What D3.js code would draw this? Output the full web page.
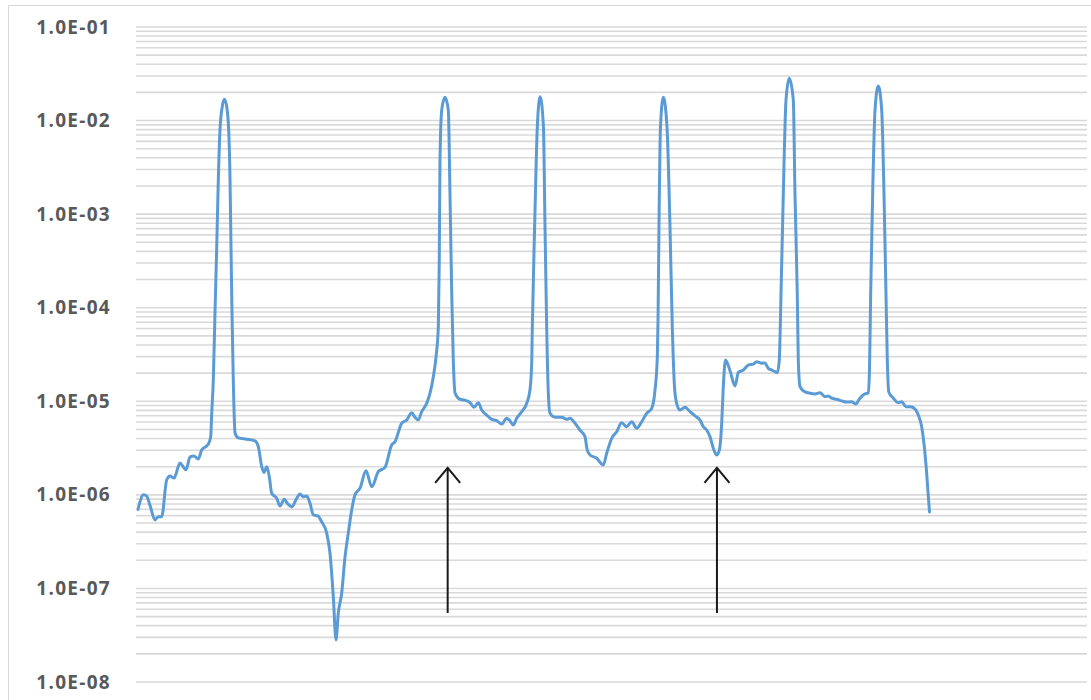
<!DOCTYPE html>
<html>
<head>
<meta charset="utf-8">
<script src="https://cdn.jsdelivr.net/npm/d3@7"></script>
<style>
  html, body { margin: 0; padding: 0; background: #ffffff; }
  svg { display: block; }
</style>
</head>
<body>
<svg id="chart" width="1091" height="700"></svg>
<script>
// ---- data ----
const decadeTicks = [1e-8, 1e-7, 1e-6, 1e-5, 1e-4, 1e-3, 1e-2, 1e-1];
const tickLabels = ["1.0E-08", "1.0E-07", "1.0E-06", "1.0E-05", "1.0E-04", "1.0E-03", "1.0E-02", "1.0E-01"];

const times = [
  0, 0.7, 1.1, 1.5, 2.15, 2.56, 2.99, 3.62, 4.04, 4.55, 5.3, 5.72, 6.06, 6.57, 7.07, 7.61, 8.04, 8.88, 9.18, 9.31,
  9.51, 9.72, 9.94, 10.14, 10.35, 10.64, 10.9, 11.2, 11.45, 11.62, 11.74, 11.87, 12.03, 12.25, 12.66, 13.72, 14.77, 15.19, 15.62, 15.91,
  16.25, 16.58, 16.88, 17.51, 17.93, 18.47, 18.85, 19.41, 20.04, 20.45, 20.87, 21.3, 21.72, 22.13, 22.69, 23.19, 23.83, 24.24, 24.66, 25.0,
  25.29, 25.72, 26.14, 26.55, 26.98, 27.4, 28.03, 28.79, 29.51, 30.34, 31.19, 32.03, 32.45, 33.3, 33.93, 34.56, 34.97, 35.39, 35.82, 36.45,
  36.87, 37.29, 37.63, 37.92, 38.04, 38.13, 38.35, 38.76, 39.18, 39.39, 39.61, 39.81, 40.03, 40.66, 41.29, 41.92, 42.42, 42.97, 43.4, 44.03,
  44.66, 45.29, 45.92, 46.55, 46.88, 47.39, 47.81, 48.45, 49.08, 49.49, 49.71, 49.78, 50.08, 50.42, 50.77, 51.19, 51.39, 51.6, 51.81, 52.02,
  52.65, 53.5, 54.13, 54.55, 55.18, 55.81, 56.44, 56.69, 57.07, 57.92, 58.75, 59.18, 59.81, 60.44, 61.07, 61.7, 62.34, 62.97, 63.6, 64.23,
  64.86, 65.28, 65.57, 65.66, 65.78, 65.97, 66.33, 66.79, 67.17, 67.46, 67.8, 68.22, 68.43, 69.07, 69.7, 70.33, 70.96, 71.38, 71.8, 72.22,
  72.64, 73.07, 73.4, 73.7, 73.9, 74.18, 74.75, 75.38, 75.8, 76.43, 77.06, 77.69, 78.12, 78.75, 79.17, 79.58, 80.01, 80.43, 80.72, 80.97,
  81.19, 81.48, 81.82, 82.23, 82.74, 82.95, 83.24, 83.37, 83.59, 84.22, 84.85, 85.48, 86.11, 86.74, 87.16, 87.59, 88.22, 88.85, 89.48, 90.11,
  90.62, 91.16, 91.79, 92.21, 92.36, 92.51, 92.76, 93.06, 93.47, 93.9, 94.19, 94.44, 94.61, 94.8, 95.37, 96.0, 96.43, 96.97, 97.47, 97.89,
  98.52, 98.95, 99.28, 99.58, 99.79, 99.94
];

const values = [
  7.0e-7, 1.0e-6, 9.7e-7, 7.8e-7, 5.4e-7, 5.85e-7, 5.85e-7, 1.44e-6, 1.59e-6, 1.51e-6, 2.19e-6, 1.99e-6, 1.85e-6, 2.54e-6, 2.6e-6, 2.42e-6, 3.01e-6, 3.49e-6, 4.19e-6, 7.5e-6,
  1.69e-5, 8.77e-5, 4.46e-4, 2.32e-3, 7.93e-3, 1.41e-2, 1.69e-2, 1.41e-2, 7.93e-3, 2.32e-3, 4.46e-4, 8.77e-5, 1.69e-5, 4.58e-6, 4.06e-6, 3.93e-6, 3.77e-6, 3.27e-6, 2.0e-6, 1.73e-6,
  2.0e-6, 1.56e-6, 1.04e-6, 9.19e-7, 7.6e-7, 8.97e-7, 8.13e-7, 7.46e-7, 9.19e-7, 1.02e-6, 9.55e-7, 9.7e-7, 8.13e-7, 6.1e-7, 5.95e-7, 5.16e-7, 3.88e-7, 2.39e-7, 8.17e-8, 2.81e-8,
  5.46e-8, 8.94e-8, 2.18e-7, 3.88e-7, 6.89e-7, 1.0e-6, 1.18e-6, 1.81e-6, 1.22e-6, 1.77e-6, 1.97e-6, 3.41e-6, 3.7e-6, 5.82e-6, 6.31e-6, 7.55e-6, 6.75e-6, 6.31e-6, 7.74e-6, 9.51e-6,
  1.22e-5, 1.83e-5, 2.99e-5, 6.27e-5, 3.24e-4, 3.79e-3, 1.3e-2, 1.77e-2, 1.3e-2, 1.68e-3, 1.44e-4, 2.76e-5, 1.23e-5, 1.05e-5, 1.03e-5, 9.66e-6, 8.63e-6, 9.66e-6, 8.07e-6, 7.13e-6,
  6.41e-6, 6.21e-6, 5.71e-6, 6.58e-6, 6.31e-6, 5.58e-6, 6.58e-6, 7.74e-6, 9.51e-6, 1.32e-5, 2.55e-5, 5.78e-5, 7.35e-4, 8.6e-3, 1.8e-2, 8.6e-3, 7.35e-4, 6.27e-5, 1.22e-5, 7.44e-6,
  6.75e-6, 6.75e-6, 6.41e-6, 6.58e-6, 5.82e-6, 4.93e-6, 4.19e-6, 3.09e-6, 2.67e-6, 2.46e-6, 2.08e-6, 2.78e-6, 4.02e-6, 4.73e-6, 5.9e-6, 5.35e-6, 6.05e-6, 5.14e-6, 6.05e-6, 7.44e-6,
  8.41e-6, 1.32e-5, 2.99e-5, 7.4e-5, 7.35e-4, 8.6e-3, 1.77e-2, 8.6e-3, 7.35e-4, 6.27e-5, 1.22e-5, 8.41e-6, 8.07e-6, 8.63e-6, 7.74e-6, 6.97e-6, 6.31e-6, 5.35e-6, 4.93e-6, 4.19e-6,
  3.15e-6, 2.67e-6, 3.01e-6, 5.82e-6, 1.43e-5, 2.76e-5, 2.12e-5, 1.46e-5, 2.03e-5, 2.16e-5, 2.44e-5, 2.5e-5, 2.65e-5, 2.55e-5, 2.57e-5, 2.25e-5, 2.16e-5, 2.07e-5, 2.02e-5, 2.76e-5,
  1.43e-4, 1.67e-3, 1.66e-2, 2.83e-2, 1.66e-2, 1.67e-3, 1.43e-4, 2.76e-5, 1.43e-5, 1.26e-5, 1.22e-5, 1.2e-5, 1.23e-5, 1.12e-5, 1.14e-5, 1.08e-5, 1.05e-5, 1.01e-5, 9.82e-6, 9.88e-6,
  9.35e-6, 1.08e-5, 1.2e-5, 1.22e-5, 2.16e-5, 1.43e-4, 1.67e-3, 1.3e-2, 2.34e-2, 1.3e-2, 1.67e-3, 1.43e-4, 2.76e-5, 1.26e-5, 1.08e-5, 9.66e-6, 9.88e-6, 8.75e-6, 8.75e-6, 8.55e-6,
  7.13e-6, 5.35e-6, 3.27e-6, 1.7e-6, 9.55e-7, 6.56e-7
];

// arrow annotations: position in time, value range (bottom -> tip)
const arrowTimes = [39.1, 73.1];
const arrowFrom = [5.46e-8, 5.46e-8];
const arrowTo = [1.94e-6, 1.94e-6];

// ---- drawing ----
const svg = d3.select("#chart");
const W = 1091, H = 700;

// outer frame
svg.append("rect")
  .attr("x", 8.5).attr("y", 5.5)
  .attr("width", W + 10).attr("height", H + 10)
  .attr("fill", "#ffffff")
  .attr("stroke", "#d9d9d9").attr("stroke-width", 1);

const gridLeft = 136, gridRight = 1087;
const x = d3.scaleLinear().domain([0, 100]).range([138, 930]);
const y = d3.scaleLog().domain([1e-8, 1e-1]).range([682, 27]);

// gridlines at every minor tick
const gridVals = [];
for (let k = -8; k < -1; k++) {
  for (let m = 1; m <= 9; m++) gridVals.push(m * Math.pow(10, k));
}
gridVals.push(1e-1);

svg.append("g").selectAll("line")
  .data(gridVals)
  .join("line")
  .attr("x1", gridLeft).attr("x2", gridRight)
  .attr("y1", d => y(d)).attr("y2", d => y(d))
  .attr("stroke", "#d9d9d9")
  .attr("stroke-width", 1.6);

// y axis labels
const yAxis = d3.axisLeft(y)
  .tickValues(decadeTicks)
  .tickFormat((d, i) => tickLabels[i])
  .tickSize(0)
  .tickPadding(25);

const ag = svg.append("g")
  .attr("transform", `translate(${gridLeft},0)`)
  .call(yAxis);
ag.select(".domain").remove();
ag.selectAll("text")
  .attr("font-family", "'Open Sans', 'Noto Sans', sans-serif")
  .attr("font-size", 19)
  .attr("font-weight", "bold")
  .attr("letter-spacing", 1.3)
  .attr("fill", "#595959");

// data line
const pts = times.map((t, i) => [t, values[i]]);
const line = d3.line()
  .x(d => x(d[0]))
  .y(d => y(d[1]))
  .curve(d3.curveMonotoneX);

svg.append("path")
  .datum(pts)
  .attr("d", line)
  .attr("fill", "none")
  .attr("stroke", "#5b9bd5")
  .attr("stroke-width", 3)
  .attr("stroke-linejoin", "round")
  .attr("stroke-linecap", "round");

// arrows
const ar = svg.append("g");
arrowTimes.forEach((t, i) => {
  const ax = x(t), y0 = y(arrowFrom[i]), y1 = y(arrowTo[i]);
  ar.append("line")
    .attr("x1", ax).attr("x2", ax)
    .attr("y1", y0).attr("y2", y1 + 1)
    .attr("stroke", "#1a1a1a").attr("stroke-width", 2);
  ar.append("path")
    .attr("d", `M${ax - 12.5},${y1 + 15} L${ax},${y1} L${ax + 12.5},${y1 + 15}`)
    .attr("fill", "none")
    .attr("stroke", "#1a1a1a").attr("stroke-width", 2);
});
</script>
</body>
</html>
